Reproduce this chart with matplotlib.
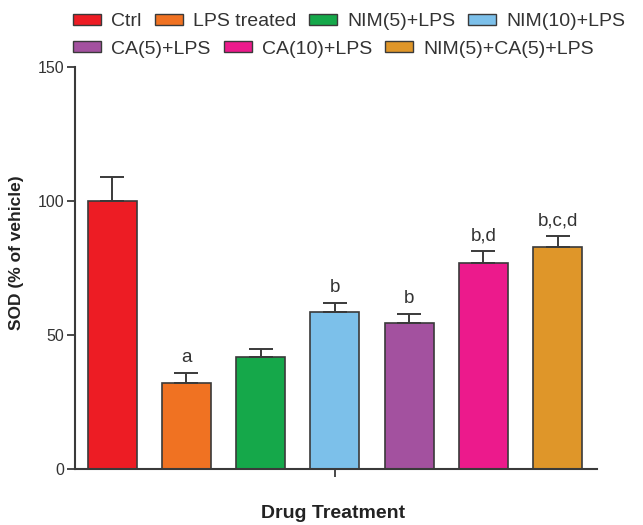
import numpy as np
import matplotlib
matplotlib.use('Agg')
import matplotlib.pyplot as plt
from matplotlib.patches import Patch

plt.rcParams['font.family'] = ['Liberation Sans', 'DejaVu Sans']

# data
groups = ['Ctrl', 'LPS treated', 'NIM(5)+LPS', 'NIM(10)+LPS',
          'CA(5)+LPS', 'CA(10)+LPS', 'NIM(5)+CA(5)+LPS']
sod_mean = [100.0, 32.2, 41.8, 58.6, 54.6, 76.9, 82.8]
sod_err = [9.0, 3.6, 3.0, 3.4, 3.3, 4.4, 4.2]
sig_labels = ['', 'a', '', 'b', 'b', 'b,d', 'b,c,d']
colors = ['#ED1C24', '#F07222', '#15A84A', '#7CC0EA',
          '#A3519F', '#EC1A8C', '#DF9629']

edge = '#3a3a3a'

fig = plt.figure(figsize=(6.43, 5.25), dpi=100)
ax = fig.add_axes([75/643, 1-469/525, (597-75)/643, (469-67)/525])

x = np.arange(len(groups))
ax.bar(x, sod_mean, width=0.66, color=colors, edgecolor=edge, linewidth=1.2,
       zorder=2)
ax.errorbar(x, sod_mean, yerr=[np.zeros(len(x)), sod_err], fmt='none',
            ecolor=edge, elinewidth=1.4, capsize=8.5, capthick=1.4, zorder=3)

# significance letters above the error bars
for xi, m, e, s in zip(x, sod_mean, sod_err, sig_labels):
  if s:
    ax.text(xi, m + e + 2.5, s, ha='center', va='bottom', fontsize=13.5,
            color='#333333')

ax.set_xlim(-0.5, 6.53)
ax.set_ylim(0, 150)
ax.set_yticks([0, 50, 100, 150])
ax.set_xticks([3])
ax.set_xticklabels([''])
ax.tick_params(axis='y', length=6, width=1.3, color=edge, labelsize=11.5,
               labelcolor='#333333', pad=2)
ax.tick_params(axis='x', length=6, width=1.3, color=edge)

for side in ['top', 'right']:
  ax.spines[side].set_visible(False)
for side in ['left', 'bottom']:
  ax.spines[side].set_color(edge)
  ax.spines[side].set_linewidth(1.5)

fig.text(17/643, 1-253/525, 'SOD (% of vehicle)', rotation=90, ha='center',
         va='center', fontsize=12.5, fontweight='bold', color='#222222')
fig.text(333/643, 1-513/525, 'Drug Treatment', ha='center', va='center',
         fontsize=14, fontweight='bold', color='#222222')

# legend in two flowing rows
handles = [Patch(facecolor=c, edgecolor=edge, linewidth=1.0) for c in colors]
leg_kw = dict(frameon=False, handlelength=1.44, handleheight=0.55,
              handletextpad=0.52, columnspacing=0.67, borderpad=0,
              borderaxespad=0, fontsize=14, loc='center left')
leg1 = fig.legend(handles[:4], groups[:4], ncol=4,
                  bbox_to_anchor=(73/643, 1-22/525), **leg_kw)
for t in leg1.get_texts():
  t.set_color('#333333')
leg2 = fig.legend(handles[4:], groups[4:], ncol=3,
                  bbox_to_anchor=(73/643, 1-49/525), **leg_kw)
for t in leg2.get_texts():
  t.set_color('#333333')

fig.savefig('out.png', dpi=100)
